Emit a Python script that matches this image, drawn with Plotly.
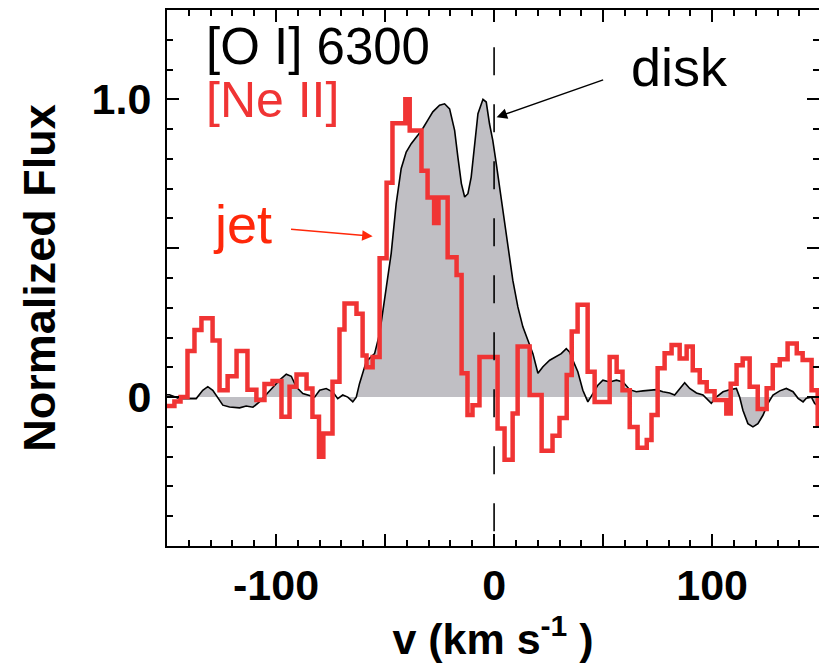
import plotly.graph_objects as go

# [O I] 6300 profile (velocity km/s, normalized flux)
oi_v = [-150.2, -148.9, -144.3, -139.7, -136.6, -133.6, -131.3, -129.0, -126.7, -124.4, -121.3,
        -116.7, -113.7, -110.6, -107.6, -104.5, -101.5, -98.4, -95.3, -93.0, -90.7, -87.7,
        -85.4, -82.3, -80.0, -77.0, -73.9, -71.7, -69.4, -67.1, -64.8, -63.2, -61.7, -58.6,
        -54.8, -52.5, -49.4, -47.2, -44.9, -42.6, -40.3, -38.0, -35.0, -32.7, -30.4, -28.1,
        -25.0, -22.7, -20.4, -18.1, -16.6, -15.0, -13.5, -12.0, -10.5, -8.9, -7.4, -5.1,
        -3.6, -2.1, -0.6, 1.0, 2.5, 4.0, 5.6, 7.1, 8.6, 10.9, 13.2, 15.5, 17.8, 20.1, 22.4,
        25.5, 28.5, 30.8, 33.1, 34.6, 36.1, 38.4, 40.7, 43.0, 45.3, 47.6, 49.9, 53.0, 56.1,
        59.1, 62.2, 65.2, 68.3, 71.3, 74.4, 77.4, 80.5, 82.8, 85.1, 87.4, 89.7, 92.8, 95.8,
        98.1, 99.6, 101.9, 105.0, 108.0, 111.1, 112.6, 114.1, 116.4, 118.7, 121.0, 123.3,
        125.6, 127.9, 131.0, 134.0, 137.1, 139.4, 141.7, 143.2, 145.5, 147.0, 148.5, 150.2]
oi_flux = [0.008, 0.008, -0.005, -0.005, -0.005, 0.023, 0.035, 0.023, 0.0, -0.027, -0.033,
           -0.036, -0.03, -0.034, -0.016, 0.007, 0.032, 0.057, 0.077, 0.07, 0.034, 0.012,
           0.007, 0.0, 0.023, 0.029, 0.017, -0.005, 0.007, 0.0, -0.016, 0.0, 0.046, 0.12,
           0.146, 0.213, 0.37, 0.482, 0.65, 0.768, 0.823, 0.851, 0.879, 0.902, 0.93, 0.958,
           0.98, 0.985, 0.968, 0.896, 0.806, 0.717, 0.672, 0.683, 0.739, 0.851, 0.952, 1.0,
           0.991, 0.918, 0.862, 0.784, 0.706, 0.616, 0.538, 0.47, 0.392, 0.303, 0.236, 0.191,
           0.146, 0.08, 0.102, 0.124, 0.135, 0.146, 0.163, 0.152, 0.124, 0.085, 0.023, -0.016,
           0.012, 0.04, 0.057, 0.051, 0.057, 0.051, 0.025, 0.018, 0.021, 0.023, 0.025, 0.018,
           0.014, 0.007, 0.029, 0.048, 0.029, 0.014, 0.007, -0.01, -0.021, 0.0, 0.018, 0.025,
           0.029, 0.0, -0.044, -0.089, -0.1, -0.089, -0.061, -0.021, 0.007, 0.021, 0.029,
           0.018, -0.004, -0.016, -0.004, 0.0, -0.021, -0.03, -0.03]

# [Ne II] binned profile: left bin edges (km/s) and flux in each bin
ne_v = [-150, -146.6, -143.8, -140.6, -137.4, -134.2, -129.1, -125.9, -122.2, -118.1, -113.1,
        -109.0, -105.3, -101.6, -97.5, -93.8, -90.6, -86.0, -83.3, -80.3, -78.3, -74.1, -70.9,
        -68.6, -63.1, -60.3, -58.5, -55.7, -52.5, -49.3, -46.6, -40.7, -38.7, -33.3, -30.5,
        -27.5, -25.5, -21.3, -17.2, -14.9, -12.2, -9.9, -6.7, 1.6, 4.8, 8.5, 10.8, 16.3, 21.8,
        26.8, 30.0, 33.3, 35.6, 38.3, 42.9, 46.1, 53.0, 56.2, 58.9, 62.2, 65.8, 70.0, 72.2,
        75.0, 78.2, 81.4, 85.1, 88.3, 91.1, 94.3, 97.5, 101.1, 106.5, 108.5, 111.2, 114.0,
        117.2, 120.9, 125.0, 127.8, 131.0, 134.6, 138.8, 141.5, 145.6, 148.4, 150.2]
ne_flux = [-0.03, -0.015, 0.0, 0.155, 0.225, 0.265, 0.19, 0.023, 0.07, 0.155, 0.025, -0.01,
           0.044, 0.054, -0.066, 0.035, 0.076, 0.029, -0.066, -0.2, -0.122, 0.052, 0.227,
           0.314, 0.28, 0.14, 0.10, 0.135, 0.466, 0.72, 0.92, 1.0, 0.895, 0.76, 0.67, 0.585,
           0.67, 0.47, 0.41, 0.08, -0.06, -0.027, 0.135, -0.105, -0.21, -0.055, 0.17, 0.007,
           -0.18, -0.13, -0.07, 0.074, 0.22, 0.31, 0.085, -0.016, 0.135, 0.085, 0.023, -0.1,
           -0.17, -0.144, -0.06, 0.097, 0.147, 0.175, 0.13, 0.17, 0.09, 0.05, 0.02, -0.01,
           -0.055, 0.045, 0.107, 0.13, 0.035, -0.04, 0.03, 0.107, 0.127, 0.18, 0.147, 0.125,
           0.023, -0.09, -0.09]

x_tickvals = [-150, -100, -50, 0, 50, 100, 150]
x_ticktext = ["", "-100", "", "0", "", "100", ""]
y_tickvals = [0, 0.5, 1.0]
y_ticktext = ["0", "", "1.0"]

RED = "rgb(240,52,52)"
JET = "rgb(255,40,10)"
FONT = "Liberation Sans"

fig = go.Figure()
fig.add_trace(go.Scatter(x=oi_v, y=oi_flux, mode="lines", fill="tozeroy",
                         fillcolor="rgb(192,191,196)",
                         line=dict(color="black", width=1.6), hoverinfo="skip"))
fig.add_trace(go.Scatter(x=ne_v, y=ne_flux, mode="lines", line_shape="hv",
                         line=dict(color=RED, width=4.5), hoverinfo="skip"))
fig.add_trace(go.Scatter(x=[0, 0], y=[1.366, -0.6], mode="lines",
                         line=dict(color="black", width=1.6, dash="28px,29px"),
                         hoverinfo="skip"))

axis_common = dict(showgrid=False, zeroline=False, showline=True, linecolor="black",
                   linewidth=2, mirror="ticks", ticks="inside", tickcolor="black",
                   tickwidth=2, ticklen=12, automargin=False,
                   tickfont=dict(family=FONT, size=43, color="black", weight="bold"))

fig.update_xaxes(range=[-150, 149], tickvals=x_tickvals, ticktext=x_ticktext,
                 minor=dict(dtick=10, ticks="inside", ticklen=6, tickwidth=1.5, tickcolor="black"),
                 title=dict(text="v (km s<sup>-1</sup> )", standoff=8,
                            font=dict(family=FONT, size=43, color="black", weight="bold")),
                 ticklabelstandoff=0,
                 **axis_common)
fig.update_yaxes(range=[-0.5, 1.3], tickvals=y_tickvals, ticktext=y_ticktext,
                 minor=dict(dtick=0.1, ticks="inside", ticklen=6, tickwidth=1.5, tickcolor="black"),
                 title=dict(text="Normalized Flux", standoff=22,
                            font=dict(family=FONT, size=45, color="black", weight="bold")),
                 ticklabelstandoff=5,
                 **axis_common)

annots = [
    dict(x=-133, y=1.177, text="[O I] 6300", xanchor="left", yanchor="middle",
         font=dict(family=FONT, size=51, color="black")),
    dict(x=-133, y=0.997, text="[Ne II]", xanchor="left", yanchor="middle",
         font=dict(family=FONT, size=50, color=RED)),
    dict(x=85.1, y=1.11, text="disk", xanchor="center", yanchor="middle",
         font=dict(family=FONT, size=54, color="black")),
    dict(x=-115.6, y=0.58, text="jet", xanchor="center", yanchor="middle",
         font=dict(family=FONT, size=54, color=JET)),
]
for a in annots:
    a.update(xref="x", yref="y", showarrow=False)
    fig.add_annotation(**a)

# arrows
fig.add_annotation(x=1.15, y=0.94, ax=50.7, ay=1.067, xref="x", yref="y", axref="x", ayref="y",
                   text="", showarrow=True, arrowhead=2, arrowsize=1.4, arrowwidth=1.5,
                   arrowcolor="black")
fig.add_annotation(x=-55.7, y=0.54, ax=-93.8, ay=0.564, xref="x", yref="y", axref="x", ayref="y",
                   text="", showarrow=True, arrowhead=2, arrowsize=1.4, arrowwidth=1.5,
                   arrowcolor=JET)

fig.update_layout(width=819, height=664, margin=dict(l=167, r=0, t=10, b=118),
                  paper_bgcolor="white", plot_bgcolor="white", showlegend=False)

fig.write_html("out.html")
